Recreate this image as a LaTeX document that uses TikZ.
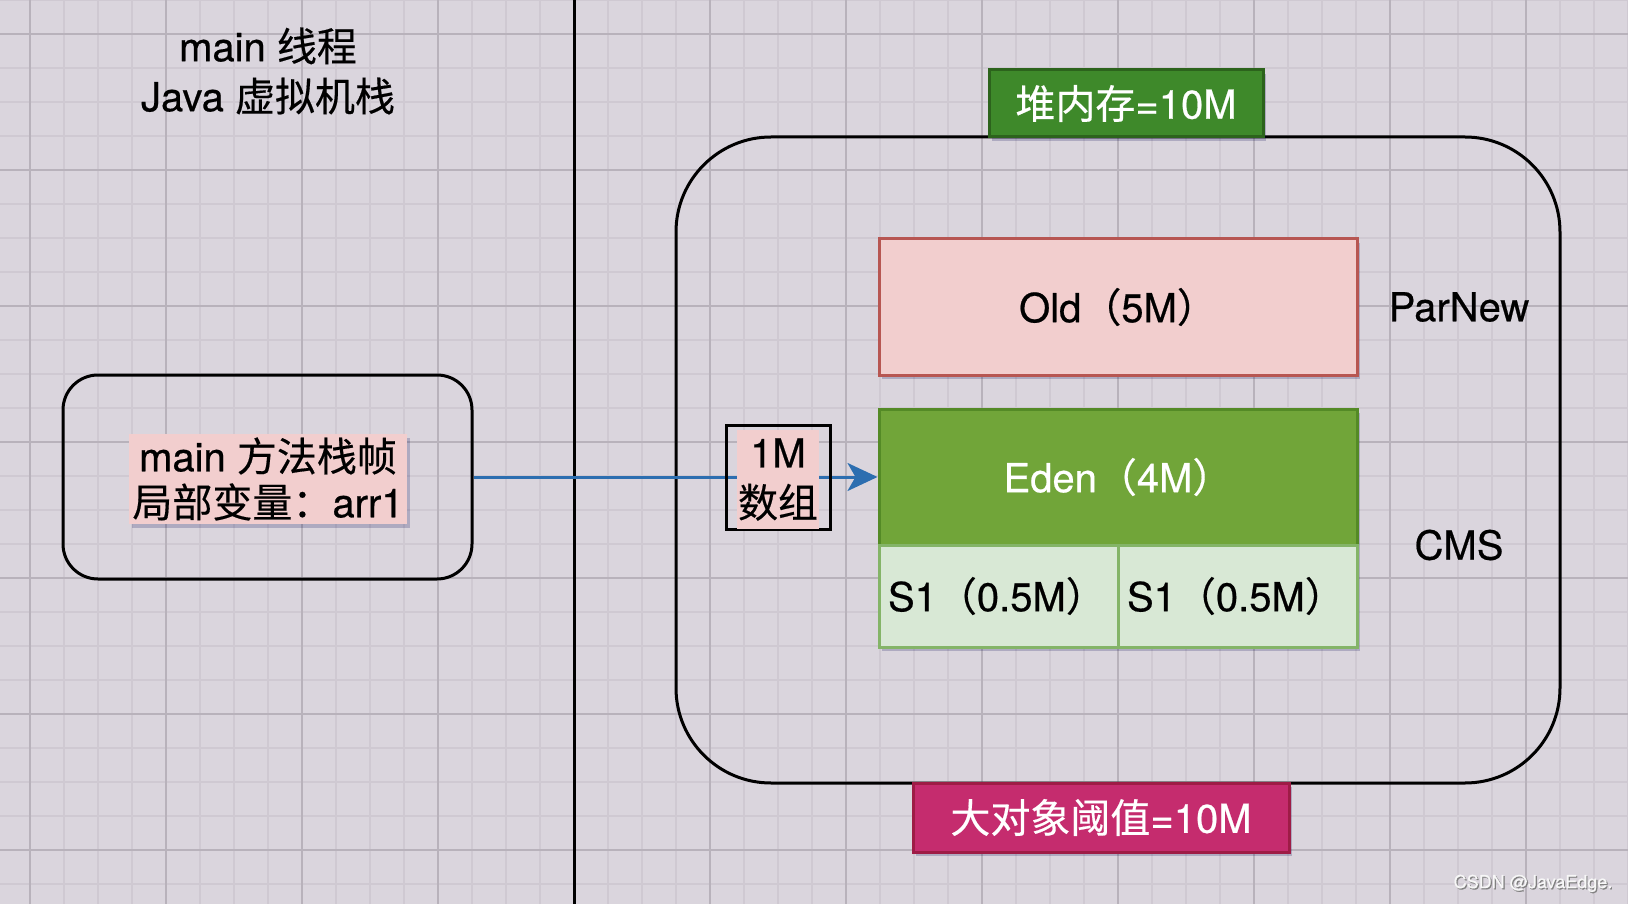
\documentclass[tikz,border=0pt]{standalone}
\usepackage{fontspec}
\setmainfont{TeX Gyre Heros}[FakeBold=0.5]
\newfontfamily\cjk{Noto Sans CJK SC}[FakeBold=0.4]
\usetikzlibrary{arrows.meta,shadows,positioning}

\definecolor{bgpaper}{RGB}{218,213,221}
\definecolor{gridminor}{RGB}{207,201,210}
\definecolor{gridmajor}{RGB}{184,178,187}
\definecolor{heapgreen}{RGB}{62,137,42}
\definecolor{heapedge}{RGB}{44,99,28}
\definecolor{bigpink}{RGB}{197,44,110}
\definecolor{bigedge}{RGB}{158,28,70}
\definecolor{oldfill}{RGB}{242,206,206}
\definecolor{oldedge}{RGB}{183,86,82}
\definecolor{edenfill}{RGB}{113,165,57}
\definecolor{edenedge}{RGB}{84,138,38}
\definecolor{survfill}{RGB}{216,232,213}
\definecolor{survedge}{RGB}{132,180,104}
\definecolor{labelpink}{RGB}{242,206,206}
\definecolor{refblue}{RGB}{44,110,176}

\newcommand{\zh}[1]{{\cjk #1}}

\tikzset{
  txt/.style={font=\fontsize{40}{48}\selectfont, align=center},
  boxshadow/.style={drop shadow={shadow xshift=3pt, shadow yshift=-4pt, opacity=0.2, fill=black!70!blue}},
  region/.style={draw, line width=3pt},
  gen/.style={txt, line width=3pt, minimum width=478pt, minimum height=136pt, boxshadow},
  surv/.style={txt, draw=survedge, fill=survfill, line width=3pt, minimum height=102pt,
    text width=221pt, inner xsep=9pt, align=left, boxshadow},
  tag/.style={txt, text=white, line width=3pt, boxshadow},
}

\begin{document}
\begin{tikzpicture}[x=1pt, y=-1pt]
\useasboundingbox (0,0) rectangle (1628,904);
% paper and grid
\fill[bgpaper] (0,0) rectangle (1628,904);
\foreach \k in {0,...,48}
  \draw[gridminor, line width=1.5pt] ({-4+34*\k},0) -- ({-4+34*\k},904);
\foreach \k in {0,...,26}
  \draw[gridminor, line width=1.5pt] (0,{34*\k}) -- (1628,{34*\k});
\foreach \k in {0,...,11}
  \draw[gridmajor, line width=1.2pt] ({30+136*\k},0) -- ({30+136*\k},904);
\foreach \k in {0,...,6}
  \draw[gridmajor, line width=1.2pt] (0,{34+136*\k}) -- (1628,{34+136*\k});

% stack side
\coordinate (divtop) at (574,0);
\coordinate (divbot) at (574,904);
\draw[line width=3pt] (divtop) -- (divbot);
\node[txt, font=\fontsize{40}{50}\selectfont] (stacktitle) at (268,71) {main \zh{线程}\\Java \zh{虚拟机栈}};
\node[region, minimum width=409pt, minimum height=204pt, rounded corners=35pt] (frame) at (267.5,477) {};
\node[txt, font=\fontsize{40}{46}\selectfont, fill=labelpink, inner sep=3pt, boxshadow] (frameinfo) at (268,479) {main \zh{方法栈帧}\\\zh{局部变量：}arr1};

% heap side
\node[region, minimum width=884pt, minimum height=646pt, rounded corners=95pt] (heap) at (1118,460) {};
\node[tag, draw=heapedge, fill=heapgreen, minimum width=274pt, minimum height=67pt] (heapsize) at (1126,103.5) {\zh{堆内存}=10M};
\node[tag, draw=bigedge, fill=bigpink, minimum width=376pt, minimum height=69pt] (bigobj) at (1101,817.5) {\zh{大对象阈值}=10M};

\node[gen, draw=oldedge, fill=oldfill] (old) at (1118,307) {Old\zh{（}5M\zh{）}};
\node[gen, draw=edenedge, fill=edenfill, text=white] (eden) at (1118,477) {Eden\zh{（}4M\zh{）}};
\node[surv] (s1a) at (998.5,596) {S1\zh{（}0.5M\zh{）}};
\node[surv] (s1b) at (1237.5,596) {S1\zh{（}0.5M\zh{）}};

\node[txt] (parnew) at (1459,307) {ParNew};
\node[txt] (cms) at (1459,545) {CMS};

% reference to the array
\draw[refblue, line width=3pt, -{Stealth[length=30pt, width=28pt, inset=8pt]}] (frame.east) -- (eden.west);
\node[draw, line width=3pt, minimum size=104pt] (arr) at (778,477) {};
\node[txt, font=\fontsize{40}{50}\selectfont, fill=labelpink, inner sep=1pt, minimum height=99pt] (arrtxt) at (778,479.5) {1M\\\zh{数组}};

\node[font=\fontsize{18}{20}\selectfont, text=white!94!gray] (mark) at (1533,884)
  {{\color{gray}\rlap{\hspace{1.2pt}\raisebox{-1.2pt}{CSDN @JavaEdge.}}}CSDN @JavaEdge.};
\end{tikzpicture}
\end{document}
